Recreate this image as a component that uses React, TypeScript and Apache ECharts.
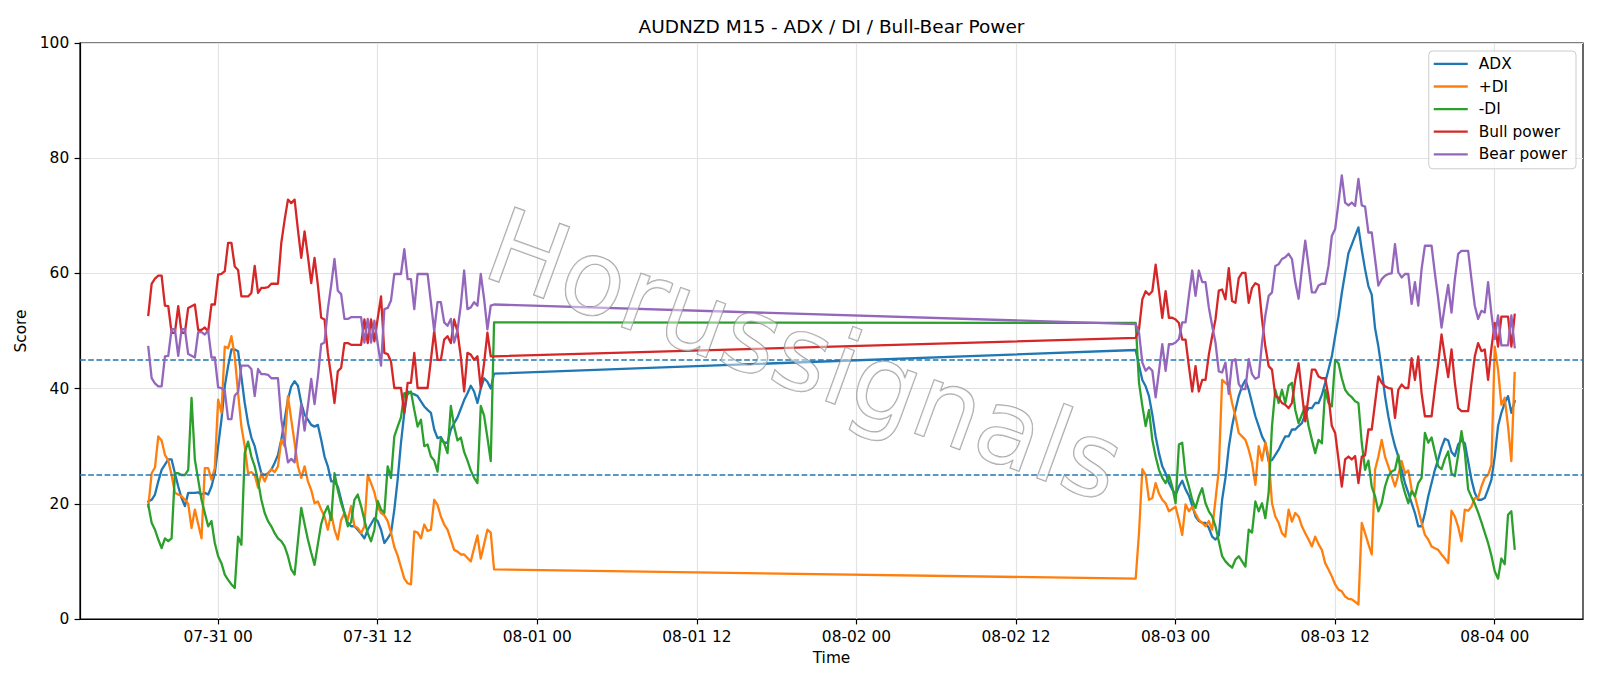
import React, { useEffect, useRef } from "react";
import * as echarts from "echarts";

// ---------- data (15-minute bars, two sessions) ----------
const SEG1_START = Date.UTC(2025, 6, 30, 18, 45);
const SEG2_START = Date.UTC(2025, 7, 2, 21, 0);
const STEP_MS = 15 * 60 * 1000;

const TITLE = "AUDNZD M15 - ADX / DI / Bull-Bear Power";
const SERIES_NAMES = ["ADX", "+DI", "-DI", "Bull power", "Bear power"];
const SERIES_COLORS = ["#1f77b4", "#ff7f0e", "#2ca02c", "#d62728", "#9467bd"];
const REF_LEVELS = [25, 45];
const Y_TICKS = [0, 20, 40, 60, 80, 100];
const X_TICK_LABELS = [
  "07-31 00", "07-31 12", "08-01 00", "08-01 12", "08-02 00",
  "08-02 12", "08-03 00", "08-03 12", "08-04 00",
];
const X_TICK_START = Date.UTC(2025, 6, 31, 0, 0);

const ADX_1 = [
  20.4, 20.7, 21.6, 23.9, 25.9, 26.8, 27.7, 27.7, 25.3, 23.0,
  21.0, 19.6, 21.9, 21.9, 21.9, 22.0, 21.6, 21.9, 21.6, 23.0,
  25.3, 30.0, 34.6, 40.4, 43.9, 46.8, 46.8, 46.5, 42.0, 37.5,
  34.0, 31.5, 30.0, 27.5, 25.3, 25.0, 25.3, 25.9, 27.1, 28.5,
  31.1, 34.6, 38.1, 40.4, 41.3, 40.5, 37.5, 35.5, 34.6, 33.7,
  33.4, 33.7, 31.1, 28.2, 26.5, 23.9, 23.9, 23.0, 20.7, 18.4,
  16.7, 16.1, 16.1, 15.5, 14.8, 14.0, 15.5, 16.5, 17.5, 17.0,
  15.5, 13.2, 14.0, 14.9, 19.0, 24.2, 30.6, 35.8, 39.5, 39.2,
  39.0, 38.7, 37.8, 36.9, 36.3, 35.8, 32.9, 31.4, 31.6, 30.6,
  30.6, 32.9, 34.0, 35.0, 36.5, 38.0, 39.2, 40.5, 39.5, 37.5,
  40.0, 41.8, 41.2, 40.0, 42.6,
];
const ADX_2 = [
  46.7, 44.0, 41.5, 40.4, 38.7, 35.5, 31.7, 28.8, 26.5, 25.3,
  23.6, 22.5, 21.5, 23.0, 24.0, 22.5, 21.4, 19.7, 17.8, 17.0,
  16.7, 16.7, 15.8, 14.3, 13.8, 14.5, 20.7, 24.5, 29.8, 33.5,
  36.3, 38.7, 40.4, 41.5, 39.8, 37.5, 35.2, 33.5, 31.7, 30.6,
  27.4, 27.6, 28.5, 29.4, 30.6, 31.7, 31.7, 32.9, 32.9, 33.5,
  34.0, 35.6, 36.6, 36.6, 37.5, 37.5, 38.9, 41.0, 43.3, 45.6,
  49.1, 52.5, 56.6, 60.1, 63.5, 65.0, 66.5, 68.0, 64.1, 60.7,
  57.8, 56.3, 50.5, 47.3, 43.3, 38.7, 35.2, 32.3, 30.0, 28.2,
  25.9, 23.6, 21.9, 20.1, 18.4, 16.1, 16.1, 18.4, 21.3, 23.6,
  25.9, 27.7, 29.8, 31.3, 31.0, 29.0, 28.3, 30.3, 31.0, 30.5,
  27.4, 24.2, 21.9, 20.7, 20.7, 21.0, 22.5, 24.2, 28.2, 33.5,
  35.8, 37.5, 38.7, 35.8, 37.8,
];

const PDI_1 = [
  19.5, 25.3, 26.3, 31.7, 31.0, 28.5, 27.5, 25.0, 21.9, 21.6,
  21.3, 20.7, 20.0, 15.8, 19.0, 16.5, 14.0, 26.2, 26.2, 24.2,
  26.2, 38.1, 35.8, 47.3, 47.0, 49.1, 45.6, 39.2, 33.4, 30.0,
  25.3, 25.5, 25.0, 22.8, 25.3, 23.9, 25.3, 26.0, 25.5, 26.5,
  31.1, 30.0, 38.7, 34.6, 30.6, 26.5, 24.5, 26.5, 23.9, 22.4,
  20.1, 20.4, 19.0, 17.8, 15.5, 18.4, 15.5, 13.8, 17.2, 18.4,
  17.2, 19.6, 16.1, 15.8, 14.9, 16.1, 25.0, 23.6, 22.0, 19.5,
  18.4, 18.0, 17.0, 15.0, 12.5, 11.0, 9.0, 7.0, 6.2, 6.0,
  15.2, 15.0, 14.0, 16.4, 15.3, 15.5, 20.7, 19.8, 17.8, 16.4,
  15.5, 13.8, 12.0, 11.7, 11.2, 11.2, 10.6, 10.0, 12.3, 14.5,
  10.5, 13.0, 15.5, 15.0, 8.6,
];
const PDI_2 = [
  7.0, 15.0, 26.0, 25.0, 20.7, 21.0, 23.6, 21.8, 20.7, 20.1,
  18.7, 19.1, 19.5, 17.2, 14.6, 19.9, 18.7, 19.5, 18.3, 17.2,
  16.7, 16.1, 17.0, 15.5, 20.7, 25.9, 41.5, 41.0, 40.5, 37.5,
  35.2, 32.3, 31.7, 31.1, 29.4, 27.1, 23.3, 30.0, 27.5, 30.6,
  28.2, 20.1, 17.8, 16.7, 14.9, 14.3, 19.0, 16.9, 18.4, 17.8,
  16.1, 14.9, 13.8, 12.6, 14.3, 13.0, 12.0, 9.7, 8.6, 7.4,
  6.0, 5.1, 4.8, 3.9, 3.5, 3.4, 3.0, 2.5, 16.7, 14.9,
  13.0, 11.2, 25.9, 28.2, 31.1, 28.2, 26.5, 24.8, 23.0, 25.0,
  27.4, 25.3, 25.8, 22.5, 21.3, 19.0, 16.7, 14.6, 13.8, 12.6,
  12.3, 12.0, 11.2, 10.5, 9.7, 18.8, 17.8, 16.0, 13.5, 19.0,
  18.8, 19.5, 21.0, 21.0, 23.0, 24.5, 25.0, 26.8, 47.3, 43.3,
  37.2, 38.4, 33.5, 27.4, 42.7,
];

const MDI_1 = [
  19.8, 16.7, 15.5, 13.8, 12.3, 14.0, 13.5, 14.0, 25.3, 25.3,
  25.0, 25.0, 25.9, 38.4, 27.7, 24.2, 20.7, 18.4, 16.1, 17.0,
  13.2, 10.9, 9.7, 7.7, 6.8, 6.0, 5.4, 14.3, 12.9, 28.8,
  30.8, 28.2, 26.5, 24.0, 20.7, 18.4, 17.0, 16.1, 14.9, 14.0,
  13.5, 12.6, 10.9, 8.6, 7.7, 13.5, 19.3, 16.5, 13.8, 11.5,
  9.4, 13.0, 16.5, 18.4, 19.6, 17.2, 25.3, 22.4, 20.1, 18.4,
  16.1, 16.8, 20.7, 21.6, 19.6, 17.2, 14.9, 13.5, 15.5, 20.5,
  19.0, 18.4, 26.5, 24.5, 31.7, 33.4, 35.0, 39.2, 39.0, 39.5,
  36.3, 33.4, 34.6, 30.0, 30.3, 28.2, 27.5, 25.6, 31.4, 30.5,
  28.8, 37.0, 33.4, 31.0, 31.5, 29.0, 27.5, 25.8, 24.5, 23.6,
  37.0, 35.3, 31.5, 27.4, 51.5,
];
const MDI_2 = [
  51.4, 41.0, 37.0, 33.5, 36.3, 31.1, 28.2, 25.9, 24.5, 23.6,
  25.0, 23.0, 20.1, 30.3, 30.6, 25.0, 23.0, 20.7, 19.3, 21.3,
  22.7, 20.1, 18.7, 17.8, 16.1, 13.5, 10.9, 10.0, 9.4, 8.9,
  10.3, 10.9, 10.0, 9.1, 15.5, 15.0, 20.4, 18.7, 20.1, 17.5,
  22.0, 33.5, 39.8, 37.5, 39.8, 37.5, 40.5, 41.0, 36.3, 34.0,
  35.5, 36.9, 33.5, 31.1, 28.8, 31.1, 30.5, 39.8, 37.5, 36.9,
  45.0, 44.4, 41.8, 39.8, 39.0, 38.5, 37.8, 37.5, 30.6, 25.9,
  27.5, 23.0, 21.3, 18.7, 20.1, 23.0, 24.8, 25.6, 25.9, 28.5,
  24.0, 21.9, 20.1, 22.2, 21.3, 23.6, 24.5, 32.3, 30.6, 31.5,
  29.0, 26.5, 26.0, 27.8, 29.1, 25.3, 24.8, 28.5, 32.6, 29.0,
  22.5, 21.2, 20.0, 18.5, 16.8, 15.0, 13.2, 11.0, 8.3, 7.0,
  10.5, 9.5, 18.1, 18.7, 12.2,
];

const BULL_1 = [
  52.8, 58.2, 59.1, 59.6, 59.6, 54.4, 54.3, 49.7, 49.7, 54.3,
  49.7, 49.7, 54.0, 54.3, 54.6, 50.2, 50.2, 50.6, 49.9, 54.6,
  54.6, 59.8, 59.9, 60.4, 65.3, 65.3, 61.2, 60.6, 56.0, 56.0,
  56.0, 56.6, 61.3, 56.6, 57.5, 57.5, 57.6, 58.2, 58.2, 58.2,
  65.3, 69.3, 72.8, 72.2, 72.8, 67.6, 62.7, 67.3, 63.0, 58.3,
  62.7, 58.0, 52.3, 52.0, 46.2, 42.1, 37.5, 43.0, 43.6, 47.9,
  47.9, 47.6, 47.6, 47.6, 47.6, 52.0, 47.9, 52.0, 48.2, 52.2,
  56.0, 46.2, 46.0, 44.7, 40.1, 40.1, 40.1, 35.8, 41.0, 41.0,
  46.2, 40.1, 40.1, 40.1, 40.1, 45.0, 50.0, 45.0, 45.0, 48.5,
  49.1, 47.9, 52.0, 49.9, 45.5, 39.5, 46.2, 45.9, 45.0, 45.6,
  40.1, 44.4, 49.7, 45.6, 45.6,
];
const BULL_2 = [
  48.8, 50.3, 55.5, 56.9, 56.3, 56.9, 61.5, 57.0, 52.3, 56.9,
  52.3, 52.3, 52.0, 51.4, 48.5, 48.5, 43.9, 39.5, 43.9, 39.5,
  41.5, 41.5, 45.9, 49.1, 52.0, 57.0, 57.2, 55.5, 60.9, 55.2,
  54.9, 59.2, 60.1, 60.1, 54.9, 57.5, 58.3, 58.0, 52.0, 47.3,
  43.9, 43.3, 38.7, 38.4, 37.5, 37.2, 36.6, 37.5, 41.5, 44.4,
  39.2, 34.3, 38.7, 43.3, 43.3, 42.1, 41.8, 41.8, 38.7, 33.5,
  32.3, 27.7, 23.0, 27.7, 28.2, 27.7, 28.3, 23.6, 28.2, 28.4,
  32.9, 32.9, 37.5, 42.1, 41.0, 40.4, 40.1, 40.0, 34.9, 39.8,
  40.7, 40.1, 40.1, 45.3, 41.5, 45.6, 39.2, 35.2, 35.2, 35.2,
  40.0, 44.4, 49.4, 45.5, 42.0, 46.8, 41.0, 36.6, 36.1, 36.1,
  36.1, 41.0, 45.6, 47.9, 46.5, 46.8, 41.5, 47.0, 51.4, 47.3,
  52.5, 52.5, 52.5, 47.3, 52.8,
];

const BEAR_1 = [
  47.2, 41.8, 40.9, 40.4, 40.4, 45.6, 45.7, 50.3, 50.3, 45.7,
  50.3, 50.3, 46.0, 45.7, 45.4, 49.8, 49.8, 49.4, 50.1, 45.4,
  45.4, 40.2, 40.1, 39.6, 34.7, 34.7, 38.8, 39.4, 44.0, 44.0,
  44.0, 43.4, 38.7, 43.4, 42.5, 42.5, 42.4, 41.8, 41.8, 41.8,
  34.7, 30.7, 27.2, 27.8, 27.2, 32.4, 37.3, 32.7, 37.0, 41.7,
  37.3, 42.0, 47.7, 48.0, 53.8, 57.9, 62.5, 57.0, 56.4, 52.1,
  52.1, 52.4, 52.4, 52.4, 52.4, 48.0, 52.1, 48.0, 51.8, 47.8,
  44.0, 53.8, 54.0, 55.3, 59.9, 59.9, 59.9, 64.2, 59.0, 59.0,
  53.8, 59.9, 59.9, 59.9, 59.9, 55.0, 50.0, 55.0, 55.0, 51.5,
  50.9, 52.1, 48.0, 50.1, 54.5, 60.5, 53.8, 54.1, 55.0, 54.4,
  59.9, 55.6, 50.3, 54.4, 54.6,
];
const BEAR_2 = [
  51.2, 49.7, 44.5, 43.1, 43.7, 43.1, 38.5, 43.0, 47.7, 43.1,
  47.7, 47.7, 48.0, 48.6, 51.5, 51.5, 56.1, 60.5, 56.1, 60.5,
  58.5, 58.5, 54.1, 50.9, 48.0, 43.0, 42.8, 44.5, 39.1, 44.8,
  45.1, 40.8, 39.9, 39.9, 45.1, 42.5, 41.7, 42.0, 48.0, 52.7,
  56.1, 56.7, 61.3, 61.6, 62.5, 62.8, 63.4, 62.5, 58.5, 55.6,
  60.8, 65.7, 61.3, 56.7, 56.7, 57.9, 58.2, 58.2, 61.3, 66.5,
  67.7, 72.3, 77.0, 72.3, 71.8, 72.3, 71.7, 76.4, 71.8, 71.6,
  67.1, 67.1, 62.5, 57.9, 59.0, 59.6, 59.9, 60.0, 65.1, 60.2,
  59.3, 59.9, 59.9, 54.7, 58.5, 54.4, 60.8, 64.8, 64.8, 64.8,
  60.0, 55.6, 50.6, 54.5, 58.0, 53.2, 59.0, 63.4, 63.9, 63.9,
  63.9, 59.0, 54.4, 52.1, 53.5, 53.2, 58.5, 53.0, 48.6, 52.7,
  47.5, 47.5, 47.5, 52.7, 47.2,
];

const SERIES_VALUES: [number[], number[]][] = [
  [ADX_1, ADX_2],
  [PDI_1, PDI_2],
  [MDI_1, MDI_2],
  [BULL_1, BULL_2],
  [BEAR_1, BEAR_2],
];

const FONT = "DejaVu Sans";

function toPairs(seg1: number[], seg2: number[]) {
  const a = seg1.map((v, i) => [SEG1_START + i * STEP_MS, v]);
  const b = seg2.map((v, i) => [SEG2_START + i * STEP_MS, v]);
  return a.concat(b);
}

export default function App() {
  const ref = useRef<HTMLDivElement>(null);

  useEffect(() => {
    if (!ref.current) return;
    document.body.style.margin = "0";
    const chart = echarts.init(ref.current, null, { renderer: "svg" });

    const first = SEG1_START;
    const last = SEG2_START + (ADX_2.length - 1) * STEP_MS;
    const span = last - first;
    const xMin = first - 0.05 * span;
    const xMax = last + 0.05 * span;
    const tickValues = X_TICK_LABELS.map((_, k) => X_TICK_START + k * 12 * 3600 * 1000);

    const series: any[] = SERIES_NAMES.map((name, idx) => ({
      name,
      type: "line",
      data: toPairs(SERIES_VALUES[idx][0], SERIES_VALUES[idx][1]),
      showSymbol: false,
      symbol: "none",
      silent: true,
      z: 2 + idx,
      lineStyle: { width: 2.3, color: SERIES_COLORS[idx], cap: "square", join: "round" },
      itemStyle: { color: SERIES_COLORS[idx] },
      emphasis: { disabled: true },
    }));
    series[series.length - 1].markLine = {
      silent: true,
      symbol: "none",
      label: { show: false },
      emphasis: { disabled: true },
      lineStyle: { color: "#1f77b4", type: [5.7, 2.5], width: 1.5 },
      data: REF_LEVELS.map((v) => ({ yAxis: v })),
    };

    chart.setOption({
      animation: false,
      backgroundColor: "#ffffff",
      textStyle: { fontFamily: FONT },
      title: {
        text: TITLE,
        left: 831.5,
        top: 17,
        padding: 0,
        textAlign: "center",
        textStyle: { fontFamily: FONT, fontSize: 18.5, fontWeight: "normal", color: "#000" },
      },
      legend: {
        data: SERIES_NAMES,
        orient: "vertical",
        right: 24,
        top: 51,
        padding: [5.4, 9, 7, 5],
        itemWidth: 34,
        itemHeight: 2.3,
        itemGap: 7.6,
        icon: "rect",
        backgroundColor: "rgba(255,255,255,0.8)",
        borderColor: "#cccccc",
        borderWidth: 1,
        borderRadius: 4,
        selectedMode: false,
        textStyle: {
          fontFamily: FONT,
          fontSize: 15.4,
          color: "#000",
          lineHeight: 14.5,
          padding: [0, 0, 0, 6],
        },
      },
      grid: {
        left: 80,
        right: 17,
        top: 43,
        bottom: 67,
        show: true,
        borderColor: "#000",
        borderWidth: 1.2,
        backgroundColor: "transparent",
      },
      xAxis: {
        type: "value",
        min: xMin,
        max: xMax,
        name: "Time",
        nameLocation: "middle",
        nameGap: 31,
        nameTextStyle: { fontFamily: FONT, fontSize: 15.4, color: "#000" },
        axisLine: { show: true, onZero: false, lineStyle: { color: "#000", width: 1.2 } },
        axisTick: {
          show: true,
          customValues: tickValues,
          length: 5.4,
          lineStyle: { color: "#000", width: 1.2 },
        },
        axisLabel: {
          customValues: tickValues,
          fontFamily: FONT,
          fontSize: 15.4,
          color: "#000",
          margin: 10.8,
          formatter: (v: number) => {
            const k = Math.round((v - X_TICK_START) / (12 * 3600 * 1000));
            return X_TICK_LABELS[k] ?? "";
          },
        },
        splitLine: { show: true, lineStyle: { color: "#e3e3e3", width: 1.2 } },
      },
      yAxis: {
        type: "value",
        min: Y_TICKS[0],
        max: Y_TICKS[Y_TICKS.length - 1],
        interval: 20,
        name: "Score",
        nameLocation: "middle",
        nameGap: 38,
        nameRotate: 90,
        nameTextStyle: { fontFamily: FONT, fontSize: 15.4, color: "#000" },
        axisLine: { show: true, lineStyle: { color: "#000", width: 1.2 } },
        axisTick: { show: true, length: 5.4, lineStyle: { color: "#000", width: 1.2 } },
        axisLabel: { fontFamily: FONT, fontSize: 15.4, color: "#000", margin: 10.8 },
        splitLine: { show: true, lineStyle: { color: "#e3e3e3", width: 1.2 } },
      },
      graphic: [
        {
          type: "text",
          x: 805,
          y: 355,
          rotation: (-20 * Math.PI) / 180,
          silent: true,
          z: 100,
          style: {
            text: "Horussignals",
            fontFamily: FONT,
            fontSize: 104,
            textAlign: "center",
            textVerticalAlign: "middle",
            align: "center",
            verticalAlign: "middle",
            fill: "rgba(255,255,255,0.45)",
            stroke: "rgba(130,130,130,0.75)",
            lineWidth: 1.4,
          },
        },
      ],
      series,
    });

    return () => chart.dispose();
  }, []);

  return (
    <div
      ref={ref}
      style={{ position: "absolute", left: 0, top: 0, width: 1600, height: 686 }}
    />
  );
}
